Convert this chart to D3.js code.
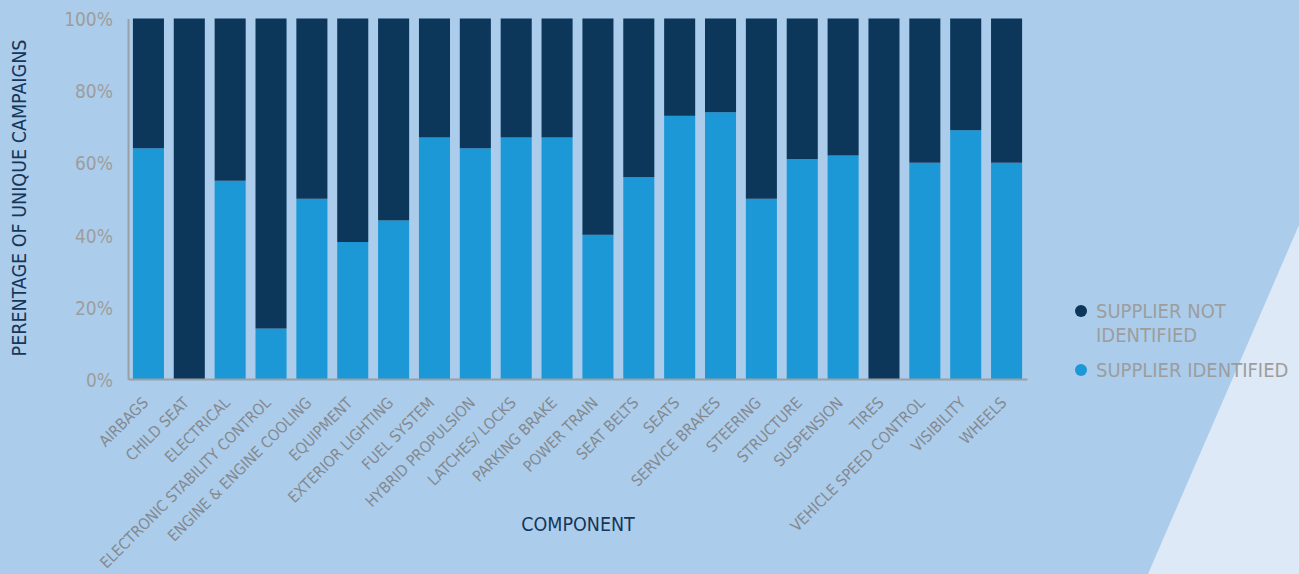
<!DOCTYPE html>
<html><head><meta charset="utf-8">
<script src="https://cdn.jsdelivr.net/npm/d3@7"></script>
<style>
html,body{margin:0;padding:0;background:#abcdeb;}
svg{display:block;}
</style></head>
<body>
<svg id="chart" width="1299" height="574"></svg>
<script>
const categories = ["AIRBAGS","CHILD SEAT","ELECTRICAL","ELECTRONIC STABILITY CONTROL","ENGINE & ENGINE COOLING","EQUIPMENT","EXTERIOR LIGHTING","FUEL SYSTEM","HYBRID PROPULSION","LATCHES/ LOCKS","PARKING BRAKE","POWER TRAIN","SEAT BELTS","SEATS","SERVICE BRAKES","STEERING","STRUCTURE","SUSPENSION","TIRES","VEHICLE SPEED CONTROL","VISIBILITY","WHEELS"];
const supplierIdentified = [64,0,55,14,50,38,44,67,64,67,67,40,56,73,74,50,61,62,0,60,69,60];
const supplierNotIdentified = supplierIdentified.map(v => 100 - v);
const yTicks = [0,20,40,60,80,100];
const seriesNames = ["SUPPLIER NOT IDENTIFIED","SUPPLIER IDENTIFIED"];
const colors = {"SUPPLIER IDENTIFIED":"#1c98d6","SUPPLIER NOT IDENTIFIED":"#0c375b"};

const svg = d3.select("#chart");
const W = 1299, H = 574;
const font = "'DejaVu Sans Condensed','Liberation Sans Narrow',sans-serif";

// background
svg.append("rect").attr("width",W).attr("height",H).attr("fill","#abcdeb");
svg.append("path").attr("d","M1299,225 L1148,574 L1299,574 Z").attr("fill","#dde9f6");

const x = d3.scaleBand().domain(categories).range([128,1027]).paddingInner(0.24).paddingOuter(0.12);
const y = d3.scaleLinear().domain([0,100]).range([379,18.5]);

const rows = categories.map((c,i)=>({cat:c, "SUPPLIER IDENTIFIED":supplierIdentified[i], "SUPPLIER NOT IDENTIFIED":supplierNotIdentified[i]}));
const stack = d3.stack().keys(["SUPPLIER IDENTIFIED","SUPPLIER NOT IDENTIFIED"])(rows);

svg.append("g").selectAll("g").data(stack).join("g")
  .attr("fill", d => colors[d.key])
  .selectAll("rect").data(d => d).join("rect")
  .attr("x", d => x(d.data.cat))
  .attr("width", x.bandwidth())
  .attr("y", d => y(d[1]))
  .attr("height", d => Math.max(0, y(d[0]) - y(d[1])));

// axes
const yAxis = svg.append("g").attr("transform","translate(128,0)")
  .call(d3.axisLeft(y).tickValues(yTicks).tickFormat(d => d + "%").tickSize(0).tickPadding(15));
yAxis.select(".domain").attr("stroke","#9a9fa6").attr("stroke-width",2);
yAxis.selectAll("text").attr("fill","#9d9d9d").style("font-family",font).style("font-size","19px").attr("dy","0.38em");

const xAxis = svg.append("g").attr("transform","translate(0,379)")
  .call(d3.axisBottom(x).tickSize(0).tickPadding(0));
xAxis.select(".domain").attr("stroke","#9a9fa6").attr("stroke-width",2);
xAxis.selectAll("text")
  .attr("fill","#85898f")
  .style("font-family",font).style("font-size","15.5px")
  .attr("text-anchor","end")
  .attr("transform","translate(-3,21) rotate(-45)")
  .attr("x",0).attr("y",0).attr("dy","0.35em");

// axis titles
svg.append("text").attr("transform","translate(26,198) rotate(-90)")
  .attr("text-anchor","middle").attr("fill","#16365a")
  .style("font-family",font).style("font-size","19.5px")
  .text("PERENTAGE OF UNIQUE CAMPAIGNS");
svg.append("text").attr("x",578).attr("y",531)
  .attr("text-anchor","middle").attr("fill","#16365a")
  .style("font-family",font).style("font-size","19.5px")
  .text("COMPONENT");

// legend
const leg = svg.append("g");
const legItems = [
  {name:seriesNames[0], lines:["SUPPLIER NOT","IDENTIFIED"], cy:311},
  {name:seriesNames[1], lines:["SUPPLIER IDENTIFIED"], cy:370}
];
legItems.forEach(it => {
  leg.append("circle").attr("cx",1081).attr("cy",it.cy).attr("r",6).attr("fill",colors[it.name]);
  const t = leg.append("text").attr("x",1096).attr("y",it.cy+7)
    .attr("fill","#9d9d9d").style("font-family",font).style("font-size","20px");
  it.lines.forEach((l,i)=> t.append("tspan").attr("x",1096).attr("dy", i===0?0:24).text(l));
});
</script>
</body></html>
